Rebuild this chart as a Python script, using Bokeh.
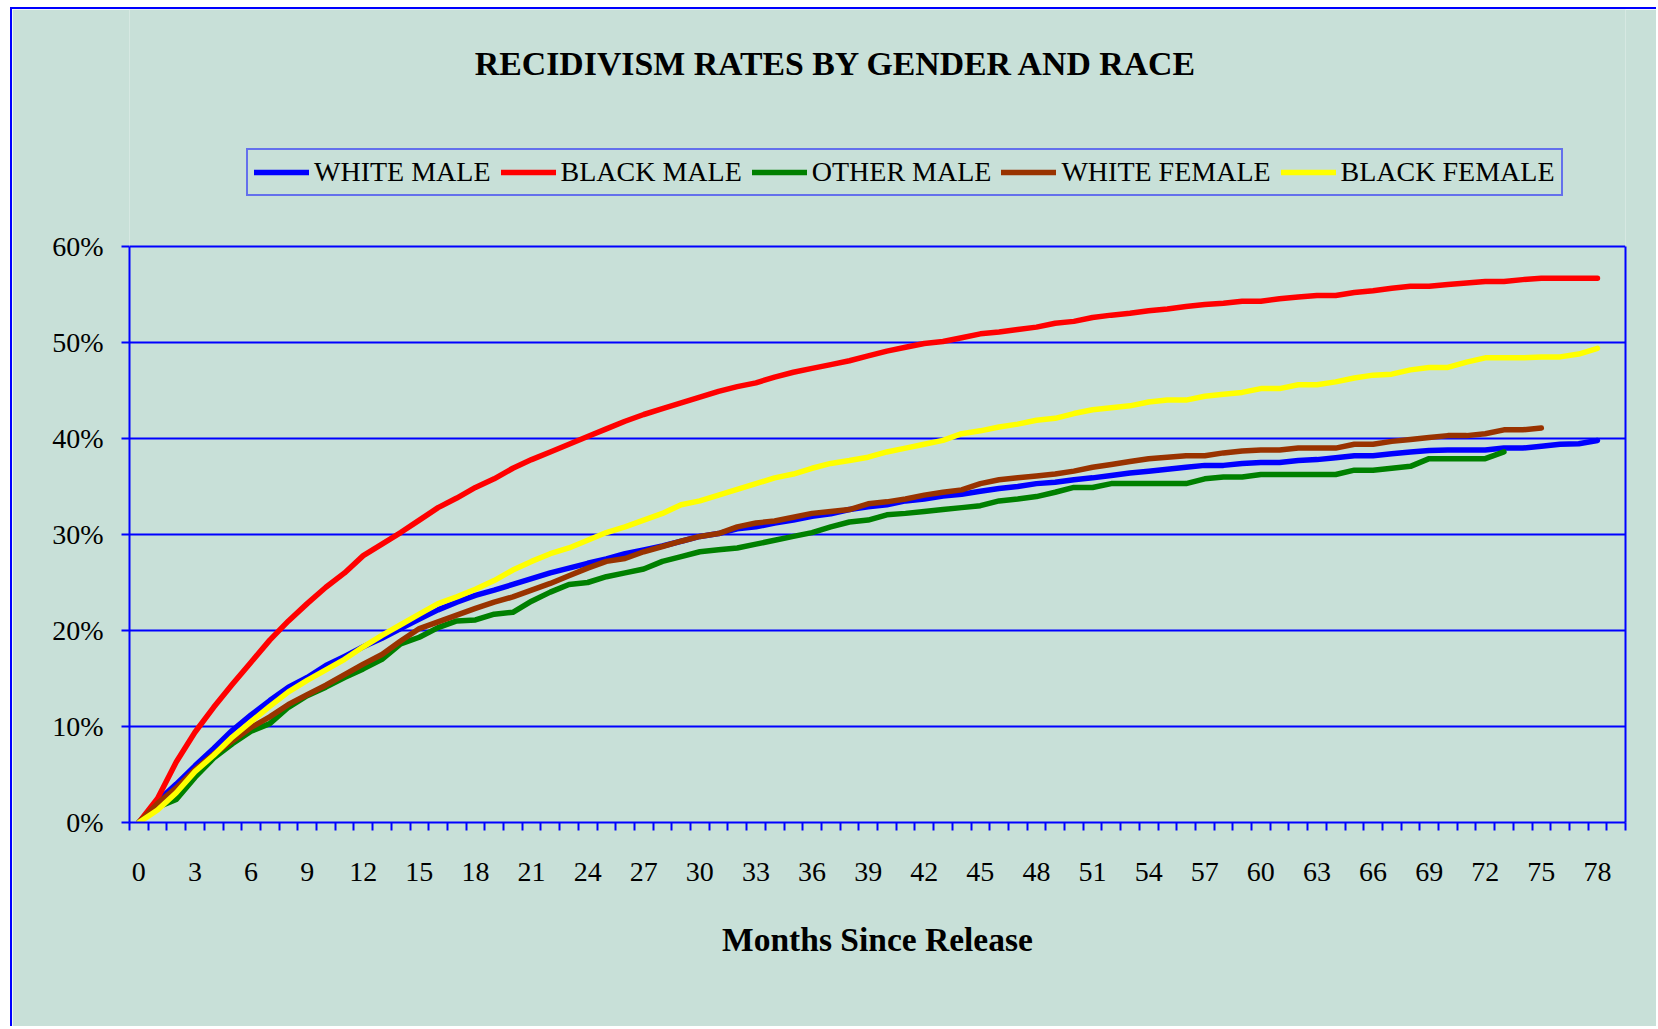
from bokeh.plotting import figure
from bokeh.models import (Range1d, FixedTicker, PrintfTickFormatter, Legend, LegendItem,
                          Label, LinearAxis)
from bokeh.layouts import column
from bokeh.embed import file_html
from bokeh.resources import INLINE

# ---------------- data (percent, by month since release) ----------------
months = list(range(79))
tick_months = list(range(0, 79, 3))
y_ticks = [0, 10, 20, 30, 40, 50, 60]

white_male = [0, 2.2, 4.0, 5.9, 7.7, 9.6, 11.2, 12.7, 14.1, 15.1,
              16.35, 17.3, 18.3, 19.2, 20.2, 21.2, 22.15, 22.95, 23.65, 24.2,
              24.8, 25.4, 26.0, 26.5, 27.0, 27.45, 28.0, 28.4, 28.8, 29.3,
              29.8, 30.1, 30.6, 30.8, 31.2, 31.5, 31.9, 32.15, 32.6, 32.9,
              33.1, 33.5, 33.7, 34.0, 34.2, 34.5, 34.8, 35.0, 35.3, 35.45,
              35.7, 35.9, 36.15, 36.4, 36.6, 36.8, 37.0, 37.2, 37.2, 37.4,
              37.5, 37.5, 37.7, 37.8, 38.0, 38.2, 38.2, 38.4, 38.6, 38.75,
              38.8, 38.8, 38.8, 39.0, 39.0, 39.2, 39.4, 39.45, 39.8]

black_male = [0, 2.5, 6.3, 9.4, 12.0, 14.4, 16.7, 19.0, 21.0, 22.8,
              24.5, 26.0, 27.8, 29.0, 30.2, 31.5, 32.8, 33.8, 34.9, 35.8,
              36.9, 37.8, 38.6, 39.4, 40.2, 41.0, 41.8, 42.5, 43.1, 43.7,
              44.3, 44.9, 45.4, 45.8, 46.4, 46.9, 47.3, 47.7, 48.1, 48.6,
              49.1, 49.5, 49.9, 50.1, 50.5, 50.9, 51.1, 51.35, 51.6, 52.0,
              52.2, 52.6, 52.85, 53.05, 53.3, 53.5, 53.75, 53.95, 54.1, 54.3,
              54.3, 54.55, 54.75, 54.9, 54.9, 55.2, 55.4, 55.65, 55.85, 55.85,
              56.05, 56.2, 56.35, 56.35, 56.55, 56.7, 56.7, 56.7, 56.7]

other_male = [0, 1.6, 2.4, 4.7, 6.7, 8.2, 9.5, 10.3, 12.0, 13.2,
              14.1, 15.1, 16.0, 17.0, 18.6, 19.3, 20.3, 21.0, 21.1, 21.7,
              21.9, 23.05, 24.0, 24.8, 25.0, 25.6, 26.0, 26.4, 27.2, 27.7,
              28.2, 28.4, 28.6, 29.0, 29.4, 29.8, 30.2, 30.8, 31.3, 31.5,
              32.05, 32.2, 32.4, 32.6, 32.8, 33.0, 33.5, 33.7, 33.95, 34.4,
              34.9, 34.9, 35.3, 35.3, 35.3, 35.3, 35.3, 35.8, 36.0, 36.0,
              36.25, 36.25, 36.25, 36.25, 36.25, 36.7, 36.7, 36.9, 37.1, 37.9,
              37.9, 37.9, 37.9, 38.6]

white_female = [0, 2.0, 3.6, 5.5, 7.1, 8.5, 9.9, 11.0, 12.3, 13.3,
                14.3, 15.4, 16.5, 17.5, 18.9, 20.2, 20.9, 21.6, 22.3, 22.95,
                23.5, 24.2, 24.9, 25.7, 26.5, 27.2, 27.5, 28.2, 28.75, 29.3,
                29.8, 30.1, 30.8, 31.2, 31.4, 31.8, 32.2, 32.4, 32.6, 33.2,
                33.4, 33.7, 34.1, 34.4, 34.65, 35.3, 35.7, 35.9, 36.1, 36.3,
                36.6, 37.0, 37.3, 37.6, 37.9, 38.05, 38.2, 38.2, 38.5, 38.7,
                38.8, 38.8, 39.0, 39.0, 39.0, 39.4, 39.4, 39.7, 39.9, 40.1,
                40.3, 40.3, 40.5, 40.9, 40.9, 41.1]

black_female = [0, 1.3, 3.1, 5.3, 7.0, 8.9, 10.5, 12.1, 13.6, 14.8,
                15.9, 17.0, 18.3, 19.5, 20.6, 21.7, 22.8, 23.5, 24.3, 25.2,
                26.3, 27.2, 28.0, 28.6, 29.4, 30.2, 30.8, 31.5, 32.2, 33.1,
                33.5, 34.1, 34.7, 35.3, 35.9, 36.3, 36.9, 37.4, 37.7, 38.05,
                38.6, 39.0, 39.4, 39.8, 40.5, 40.8, 41.2, 41.5, 41.9, 42.1,
                42.6, 43.0, 43.2, 43.4, 43.8, 44.0, 44.0, 44.4, 44.6, 44.8,
                45.2, 45.2, 45.6, 45.6, 45.9, 46.3, 46.6, 46.7, 47.15, 47.4,
                47.4, 47.95, 48.4, 48.4, 48.4, 48.5, 48.5, 48.8, 49.4]

series_names = ["WHITE MALE", "BLACK MALE", "OTHER MALE", "WHITE FEMALE", "BLACK FEMALE"]
series_values = [white_male, black_male, other_male, white_female, black_female]
series_colors = ["#0000FF", "#FF0000", "#008000", "#993300", "#FFFF00"]

# ---------------- styling ----------------
BG = "#C8E0D8"
BLUE = "#0000FF"
FONT = "Liberation Serif"

FRAME_H = 813          # frame reaches the canvas top; 60% sits 576 px above the bottom
Y_TOP = FRAME_H / 9.6  # 9.6 px per percentage point

p = figure(frame_width=1496, frame_height=FRAME_H, title=None,
           output_backend="svg", toolbar_location=None,
           x_range=Range1d(-0.5, 79.5), y_range=Range1d(0, Y_TOP),
           min_border_left=117, min_border_right=31, min_border_top=0, min_border_bottom=204,
           background_fill_color=BG, border_fill_color=BG)
p.outline_line_color = None

# x axis (category-style: ticks between months)
p.xaxis.ticker = FixedTicker(ticks=tick_months, minor_ticks=[k - 0.5 for k in range(81)])
p.xaxis.major_tick_out = 8
p.xaxis.major_tick_in = 0
p.xaxis.major_tick_line_color = None
p.xaxis.minor_tick_out = 8
p.xaxis.minor_tick_in = 0
p.xaxis.minor_tick_line_color = BLUE
p.xaxis.minor_tick_line_width = 2
p.xaxis.axis_line_color = BLUE
p.xaxis.axis_line_width = 2
p.xaxis.major_label_text_font = FONT
p.xaxis.major_label_text_font_size = "28px"
p.xaxis.major_label_text_color = "black"
p.xaxis.major_label_standoff = 32
p.xaxis.axis_label = "Months Since Release"
p.xaxis.axis_label_text_font = FONT
p.xaxis.axis_label_text_font_size = "33.5px"
p.xaxis.axis_label_text_font_style = "bold"
p.xaxis.axis_label_text_color = "black"
p.xaxis.axis_label_standoff = 37

# y axis (left) limited to the plot area 0-60%
p.yaxis.bounds = (0, 60)
p.yaxis.ticker = FixedTicker(ticks=y_ticks, minor_ticks=[])
p.yaxis.formatter = PrintfTickFormatter(format="%d%%")
p.yaxis.major_tick_out = 8
p.yaxis.major_tick_in = 0
p.yaxis.major_tick_line_color = BLUE
p.yaxis.major_tick_line_width = 2
p.yaxis.minor_tick_line_color = None
p.yaxis.axis_line_color = BLUE
p.yaxis.axis_line_width = 2
p.yaxis.major_label_text_font = FONT
p.yaxis.major_label_text_font_size = "28px"
p.yaxis.major_label_text_color = "black"
p.yaxis.major_label_standoff = 18

# right edge of the plot area
right_axis = LinearAxis(bounds=(0, 60), ticker=FixedTicker(ticks=[], minor_ticks=[]),
                        axis_line_color=BLUE, axis_line_width=2,
                        major_tick_line_color=None, minor_tick_line_color=None,
                        major_label_text_color=None)
p.add_layout(right_axis, "right")

p.xgrid.grid_line_color = None
p.ygrid.grid_line_color = BLUE
p.ygrid.grid_line_width = 2

items = []
for name, vals, color in zip(series_names, series_values, series_colors):
    r = p.line(months[:len(vals)], vals, line_color=color, line_width=5.5,
               line_cap="round", line_join="round")
    items.append(LegendItem(label=name, renderers=[r]))

legend = Legend(items=items, orientation="horizontal", location=(117, 626),
                border_line_color=BLUE, border_line_width=2,
                background_fill_color=BG, background_fill_alpha=1.0,
                label_text_font=FONT, label_text_font_size="28px", label_text_color="black",
                label_text_line_height=1.5,
                glyph_width=55, glyph_height=20, label_standoff=5, spacing=10,
                padding=6, margin=0)
p.add_layout(legend)

title = Label(x=707, y=759, x_units="screen", y_units="screen",
              text="RECIDIVISM RATES BY GENDER AND RACE",
              text_font=FONT, text_font_size="33.8px", text_font_style="bold",
              text_color="black", text_align="center", text_baseline="alphabetic")
p.add_layout(title)

layout = column(p, styles={"margin-left": "10px", "margin-top": "7px",
                           "border-left": "2px solid #0000FF", "border-top": "2px solid #0000FF"})

open("out.html", "w").write(file_html(layout, INLINE))
